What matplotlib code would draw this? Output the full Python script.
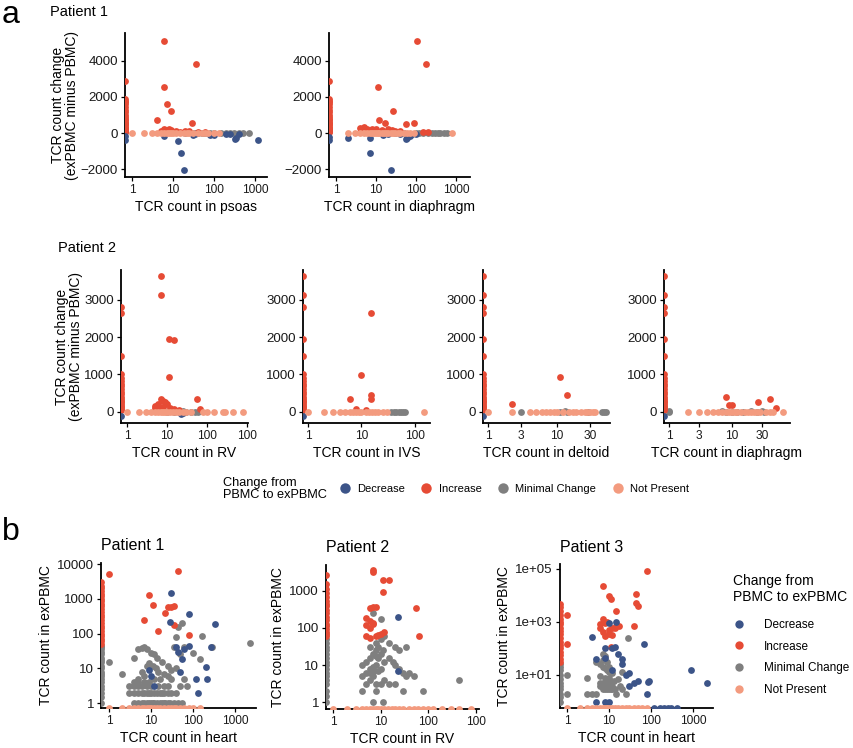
import numpy as np
import matplotlib
matplotlib.use("Agg")
import matplotlib.pyplot as plt
from matplotlib.lines import Line2D

plt.rcParams['font.family'] = ['Liberation Sans', 'DejaVu Sans']

# colours for the four groups (ggsci npg-like)
cats = ["Decrease", "Increase", "Minimal Change", "Not Present"]
colors = {"Decrease": "#3C5488", "Increase": "#E64B35",
          "Minimal Change": "#7F7F7F", "Not Present": "#F39B7F"}

# ---------------- panel a, patient 1 (x = tissue count, y = exPBMC - PBMC) ----------------
# x value 0 means "absent in tissue" and is drawn on the left edge
a1_edge_inc = [2900, 1900, 1800, 1700, 1600, 1450, 1300, 1150, 1000, 900, 800, 700, 620,
               550, 480, 420, 360, 300, 250, 200, 160, 120, 80, 40]
a1_edge_dec = [-150, -380]

psoas_inc = [(6, 5100), (37, 3850), (6, 2580), (7, 1600), (9, 1230), (4, 700), (29, 570),
             (6, 200), (7, 180), (9, 150), (12, 130), (5, 120), (20, 100), (25, 90),
             (40, 80), (60, 60), (15, 70), (8, 210)]
psoas_dec = [(6, -150), (13, -450), (16, -1100), (18, -2050), (1200, -380), (330, -350),
             (340, -250), (30, -100), (80, -120), (100, -100), (200, -50), (250, -80),
             (400, -40), (35, -60)]
psoas_min = [(30, 0), (40, 0), (50, 0), (60, 0), (80, 10), (100, 0), (150, 0), (200, 0),
             (250, 0), (300, 0), (400, 0), (500, 0), (700, 0), (20, -20), (35, 5)]
psoas_np = [1, 2, 3, 4, 5, 6, 7, 8, 9, 10, 12, 15, 18, 22, 25, 30, 40, 50, 60, 70, 100, 130]

diaph1_inc = [(105, 5100), (180, 3850), (11, 2580), (27, 1230), (12, 700), (17, 570),
              (90, 570), (55, 500), (4, 300), (5, 350), (6, 250), (8, 200), (10, 250),
              (14, 180), (20, 200), (25, 150), (30, 120), (40, 100), (200, 80), (150, 60)]
diaph1_dec = [(7, -1100), (24, -2050), (7, -250), (2, -300), (55, -350), (60, -250),
              (70, -150), (80, -80), (15, -100), (20, -80), (40, -50), (100, -50)]
diaph1_min = [(100, 0), (120, 0), (150, 0), (200, 0), (250, 0), (300, -10), (350, 0),
              (400, 0), (500, 0), (600, 0), (30, 0), (50, 0)]
diaph1_np = [2, 3, 4, 5, 6, 7, 8, 9, 10, 11, 12, 14, 16, 18, 20, 23, 26, 30, 35, 40, 50,
             60, 70, 90, 800]
a1b_edge_dec = [-200, -400]

# ---------------- panel a, patient 2 ----------------
rv_edge_inc = [2800, 2650, 1500, 1000, 900, 820, 750, 680, 600, 530, 470, 410, 350, 300,
               250, 200, 160, 120, 80, 40]
ivs_edge_inc = [3650, 3130, 2800, 1950, 1500, 1000, 900, 820, 750, 680, 600, 530, 470,
                410, 350, 300, 250, 200, 160, 120, 80, 40]
del_edge_inc = [3650, 3130, 2800, 2650, 1950, 1500, 1000, 900, 820, 750, 680, 600, 530,
                470, 410, 350, 300, 250, 200, 160, 120, 80, 40]
dia2_edge_inc = [3650, 3130, 2800, 2650, 1950, 1500, 1000, 900, 820, 750, 680, 600, 530,
                 470, 410, 350, 300, 250, 200, 160, 120, 80, 40]
p2_edge_dec = [-100]

rv_inc = [(7, 3650), (7, 3130), (11, 1950), (15, 1930), (11, 920), (55, 340), (7, 350),
          (8, 300), (9, 250), (10, 200), (6, 200), (5, 150), (5, 100), (12, 100), (15, 80),
          (20, 50), (65, 80), (8, 120), (6, 120)]
rv_dec = [(22, -60), (25, -40)]
rv_min = [(10, 0), (15, 0), (20, 0), (30, 0), (40, 0), (50, 0), (60, 0), (25, 10)]
rv_np = [1, 2, 3, 4, 5, 6, 7, 8, 9, 10, 12, 14, 17, 20, 25, 30, 40, 80, 100, 150, 250,
         280, 450, 800]

ivs_inc = [(15, 2650), (10, 980), (6, 340), (15, 460), (15, 340), (8, 80), (12, 60)]
ivs_dec = []
ivs_min = [(35, 0), (40, 0), (45, 0), (50, 0), (55, 0), (60, 0), (65, 0)]
ivs_np = [1, 2, 3, 4, 5, 6, 7, 8, 9, 10, 12, 14, 16, 18, 20, 25, 30, 150]

del_inc = [(11, 920), (14, 460), (2.2, 220)]
del_dec = []
del_min = [(3, 0), (13, 10), (14, 0), (28, 0), (45, -10), (48, 0), (50, 0), (11, 0)]
del_np = [1, 2.2, 4, 5, 6, 7, 8, 9, 10, 12, 15, 17, 19, 22, 25, 27, 30, 33, 35]

dia2_inc = [(8, 400), (9, 190), (10, 190), (26, 250), (40, 340), (50, 110)]
dia2_dec = []
dia2_min = [(1, 30), (1, 0), (7, 30), (8, 0), (10, 0), (12, 0), (15, 0), (20, 10),
            (25, 0), (30, 20), (32, 0)]
dia2_np = [2, 3, 4, 5, 6, 7, 8, 9, 10, 11, 12, 14, 16, 18, 20, 22, 25, 28, 35, 40, 45, 65]

# ---------------- panel b (x = heart/RV count, y = exPBMC count) ----------------
b1_edge_inc = [3000, 2400, 2000, 1700, 1400, 1200, 1000, 850, 700, 600, 500, 420, 350,
               300, 250, 200, 170, 140, 120, 100, 85, 70, 60, 50]
b1_edge_min = [45, 40, 35, 30, 25, 20, 17, 15, 12, 10, 8, 7, 6, 5, 4, 3, 2.5, 2, 1.5, 1]
b1_inc = [(1, 5000), (43, 6500), (9, 1250), (11, 680), (25, 580), (30, 580), (35, 600),
          (21, 400), (7, 250), (35, 180), (15, 115), (80, 90)]
b1_dec = [(30, 1500), (80, 370), (330, 190), (28, 220), (40, 40), (60, 35), (80, 45),
          (55, 18), (270, 40), (200, 11), (210, 5), (115, 5), (130, 2), (50, 8), (9, 9),
          (10, 6), (12, 3), (45, 30)]
b1_min = [(1, 15), (2, 7), (2250, 52), (160, 85), (290, 40), (100, 28), (150, 18), (4, 20),
          (5, 35), (6, 38), (7, 40), (8, 35), (10, 28), (12, 25), (14, 20), (18, 15),
          (9, 14), (11, 12), (13, 10), (15, 8), (20, 7), (25, 6), (30, 9), (40, 10),
          (50, 25), (60, 40), (40, 80), (45, 150), (55, 200), (8, 12), (6, 8), (7, 6),
          (5, 5), (4, 4), (3, 3), (35, 40), (25, 12), (60, 5), (70, 3),
          (4, 1), (5, 1), (6, 1), (7, 1), (8, 1), (9, 1), (10, 1), (11, 1), (12, 1),
          (14, 1), (16, 1), (18, 1), (20, 1), (22, 1), (25, 1), (28, 1), (35, 1), (45, 1),
          (55, 1), (3, 2), (4, 2), (5, 2), (6, 2), (7, 2), (8, 2), (9, 2), (10, 2),
          (12, 2), (14, 2), (16, 2), (18, 2), (20, 2), (25, 2), (30, 2), (40, 2),
          (4, 3), (5, 3), (6, 3), (8, 3), (10, 3), (15, 3), (20, 3), (25, 3), (50, 3),
          (5, 4), (7, 4), (9, 4), (12, 5), (16, 5), (30, 5)]
b1_np = [1, 2, 3, 4, 5, 6, 7, 8, 9, 10, 12, 14, 16, 20, 25, 30, 35, 40, 50, 60, 80, 100, 150]

b2_edge_inc = [2700, 1500, 1100, 900, 700, 550, 450, 380, 300, 250, 200, 160, 130, 110,
               95, 80, 70, 60]
b2_edge_min = [50, 40, 30, 25, 20, 15, 12, 10, 8, 6, 5, 4, 3, 2, 1.5, 1]
b2_inc = [(7, 3600), (7, 3300), (11, 2000), (15, 2000), (11, 920), (55, 350), (7, 370),
          (8, 360), (6, 350), (5, 180), (6, 150), (7, 140), (5, 120), (5, 60), (6, 55),
          (8, 60), (10, 70), (12, 80), (65, 62), (9, 65), (6, 100), (7, 130)]
b2_dec = [(23, 200), (23, 7)]
b2_min = [(7, 250), (10, 170), (8, 40), (10, 50), (12, 60), (15, 40), (20, 30), (25, 25),
          (35, 30), (4, 10), (5, 12), (6, 15), (7, 20), (8, 25), (9, 30), (10, 20), (5, 6),
          (6, 8), (7, 9), (8, 10), (9, 7), (10, 8), (12, 12), (15, 15), (18, 12), (20, 10),
          (25, 8), (30, 6), (35, 5), (40, 6), (50, 5), (4, 5), (5, 3), (6, 4), (7, 5),
          (8, 3), (10, 3), (12, 4), (15, 3), (20, 3), (30, 2), (4, 2), (8, 2), (7, 1),
          (11, 1), (80, 2), (450, 4), (6, 6), (7, 7), (9, 15), (11, 25), (6, 30), (8, 18)]
b2_np = [1, 2, 3, 4, 5, 6, 7, 8, 9, 10, 12, 14, 17, 20, 25, 30, 40, 50, 60, 80, 100, 130,
         200, 300, 450, 800]

b3_edge_inc = [4500, 3500, 2500, 1800, 1300, 1000, 800, 600, 450, 350, 250, 180, 130, 100,
               75, 55, 40, 30]
b3_edge_min = [25, 20, 15, 10, 7, 5, 4, 3, 2, 1.5, 1]
b3_inc = [(80, 80000), (7, 22000), (10, 9000), (11, 7000), (45, 11000), (45, 5000),
          (50, 4000), (15, 2500), (40, 700), (7, 1300), (6, 800), (8, 900), (10, 500),
          (12, 600), (15, 700), (9, 1000), (7, 400), (8, 300), (10, 350), (12, 320),
          (14, 600), (17, 700), (6, 600), (11, 110), (1, 1800), (1, 150)]
b3_dec = [(10, 900), (15, 1000), (4, 280), (70, 150), (8, 100), (12, 100), (14, 110),
          (5, 40), (8, 45), (16, 60), (20, 40), (20, 25), (12, 15), (25, 10), (30, 12),
          (900, 15), (2200, 5), (50, 6), (90, 6), (85, 5.5), (30, 4), (40, 5), (80, 2),
          (5, 1), (8, 1), (10, 1)]
b3_min = [(28, 250), (7, 60), (8, 50), (5, 30), (6, 25), (7, 20), (8, 18), (9, 15),
          (10, 13), (12, 12), (10, 8), (6, 4), (7, 3), (8, 3), (9, 3), (10, 3), (11, 3),
          (12, 3), (14, 3), (20, 3), (3, 2), (4, 2), (5, 2), (15, 2), (25, 2), (1, 10),
          (1, 2), (3, 8), (6, 9), (8, 8), (16, 7), (20, 13), (9, 30), (7, 35), (10, 20),
          (6, 5), (7, 5), (8, 5), (9, 5), (10, 5), (11, 5), (12, 4), (13, 6), (18, 4)]
b3_np = [1, 2, 3, 4, 5, 6, 7, 8, 9, 10, 12, 14, 16, 20, 25, 30, 40, 50, 60, 80]
b3_dec_bottom = [120, 160, 200, 250, 300, 420]

# ---------------- figure ----------------
W, H = 854, 748
fig = plt.figure(figsize=(W / 100, H / 100), dpi=100)


def add_ax(x0, y0, x1, y1):
    return fig.add_axes([x0 / W, 1 - y1 / H, (x1 - x0) / W, (y1 - y0) / H])


def style(ax):
    for s in ["top", "right"]:
        ax.spines[s].set_visible(False)
    for s in ["left", "bottom"]:
        ax.spines[s].set_linewidth(1.3)
        ax.spines[s].set_color("black")
    ax.tick_params(direction="out", length=3, width=0.9,
                   colors="black", labelcolor="#1a1a1a", pad=2)
    ax.tick_params(axis="y", labelsize=9.6)
    ax.tick_params(axis="x", labelsize=8.6)
    ax.minorticks_off()


def scatter_groups(ax, groups, logy=False):
    x0 = ax.get_xlim()[0]
    y0 = ax.get_ylim()[0]
    for cat in ["Minimal Change", "Increase", "Decrease", "Not Present"]:
        pts = groups.get(cat, [])
        if len(pts) == 0:
            continue
        arr = np.array(pts, dtype=float)
        x = np.where(arr[:, 0] == 0, x0, arr[:, 0])
        y = arr[:, 1]
        if logy:
            y = np.where(y == 0, y0, y)
        ax.scatter(x, y, s=24, color=colors[cat], linewidths=0, zorder=3)


def edge(vals):
    return [(0, v) for v in vals]


def zero_row(xs):
    return [(x, 0) for x in xs]


def panel_a(box, xlim, xticks, xticklabels, groups, xlabel, ylim, yticks, ylab=False):
    ax = add_ax(*box)
    ax.set_xscale("log")
    ax.set_xlim(*xlim)
    ax.set_ylim(*ylim)
    style(ax)
    ax.set_xticks(xticks)
    ax.set_xticklabels(xticklabels)
    ax.set_yticks(yticks)
    ax.set_yticklabels([str(t).replace("-", "\u2212") for t in yticks])
    scatter_groups(ax, groups)
    ax.set_xlabel(xlabel, fontsize=10, labelpad=3)
    if ylab:
        ax.set_ylabel("TCR count change\n(exPBMC minus PBMC)", fontsize=10, labelpad=1,
                      linespacing=1.0)
    return ax


# row 1
ylim_a1 = (-2444, 5555)
yt_a1 = [-2000, 0, 2000, 4000]
panel_a((125, 33, 267, 177), (0.675, 1950), [1, 10, 100, 1000], ["1", "10", "100", "1000"],
        {"Increase": edge(a1_edge_inc) + psoas_inc,
         "Decrease": edge(a1_edge_dec) + psoas_dec,
         "Minimal Change": psoas_min, "Not Present": zero_row(psoas_np)},
        "TCR count in psoas", ylim_a1, yt_a1, ylab=True)
panel_a((329, 33, 470, 177), (0.67, 2200), [1, 10, 100, 1000], ["1", "10", "100", "1000"],
        {"Increase": edge(a1_edge_inc) + diaph1_inc,
         "Decrease": edge(a1b_edge_dec) + diaph1_dec,
         "Minimal Change": diaph1_min, "Not Present": zero_row(diaph1_np)},
        "TCR count in diaphragm", ylim_a1, yt_a1)

# row 2
ylim_a2 = (-300, 3800)
yt_a2 = [0, 1000, 2000, 3000]
panel_a((121, 270, 248, 423), (0.71, 1050), [1, 10, 100, 1000], ["1", "10", "100", "100"],
        {"Increase": edge(rv_edge_inc) + rv_inc, "Decrease": edge(p2_edge_dec) + rv_dec,
         "Minimal Change": rv_min, "Not Present": zero_row(rv_np)},
        "TCR count in RV", ylim_a2, yt_a2, ylab=True)
panel_a((303, 270, 430, 423), (0.81, 190), [1, 10, 100], ["1", "10", "100"],
        {"Increase": edge(ivs_edge_inc) + ivs_inc, "Decrease": edge(p2_edge_dec) + ivs_dec,
         "Minimal Change": ivs_min, "Not Present": zero_row(ivs_np)},
        "TCR count in IVS", ylim_a2, yt_a2)
panel_a((483, 270, 610, 423), (0.85, 58), [1, 3, 10, 30], ["1", "3", "10", "30"],
        {"Increase": edge(del_edge_inc) + del_inc, "Decrease": edge(p2_edge_dec) + del_dec,
         "Minimal Change": del_min, "Not Present": zero_row(del_np)},
        "TCR count in deltoid", ylim_a2, yt_a2)
panel_a((664, 270, 790, 423), (0.83, 83), [1, 3, 10, 30], ["1", "3", "10", "30"],
        {"Increase": edge(dia2_edge_inc) + dia2_inc, "Decrease": edge(p2_edge_dec) + dia2_dec,
         "Minimal Change": dia2_min, "Not Present": zero_row(dia2_np)},
        "TCR count in diaphragm", ylim_a2, yt_a2)


def panel_b(box, xlim, ylim, xticks, xticklabels, yticks, yticklabels, groups, xlabel, title):
    ax = add_ax(*box)
    ax.set_xscale("log")
    ax.set_yscale("log")
    ax.set_xlim(*xlim)
    ax.set_ylim(*ylim)
    style(ax)
    ax.set_xticks(xticks)
    ax.set_xticklabels(xticklabels)
    ax.set_yticks(yticks)
    ax.set_yticklabels(yticklabels)
    ax.minorticks_off()
    scatter_groups(ax, groups, logy=True)
    ax.set_xlabel(xlabel, fontsize=10, labelpad=3)
    ax.set_ylabel("TCR count in exPBMC", fontsize=10, labelpad=3)
    ax.set_title(title, fontsize=11.5, loc="left", pad=9)
    return ax


panel_b((101, 563, 256, 708), (0.645, 3160), (0.72, 10700), [1, 10, 100, 1000],
        ["1", "10", "100", "1000"], [1, 10, 100, 1000, 10000],
        ["1", "10", "100", "1000", "10000"],
        {"Increase": edge(b1_edge_inc) + b1_inc, "Decrease": b1_dec,
         "Minimal Change": edge(b1_edge_min) + b1_min, "Not Present": zero_row(b1_np)},
        "TCR count in heart", "Patient 1")
panel_b((326, 565, 479, 709), (0.71, 1180), (0.65, 5000), [1, 10, 100, 1000],
        ["1", "10", "100", "100"], [1, 10, 100, 1000], ["1", "10", "100", "1000"],
        {"Increase": edge(b2_edge_inc) + b2_inc, "Decrease": b2_dec,
         "Minimal Change": edge(b2_edge_min) + b2_min, "Not Present": zero_row(b2_np)},
        "TCR count in RV", "Patient 2")
panel_b((560, 564, 713, 708), (0.68, 3000), (0.57, 1.5e5), [1, 10, 100, 1000],
        ["1", "10", "100", "1000"], [10, 1000, 100000], ["1e+01", "1e+03", "1e+05"],
        {"Increase": edge(b3_edge_inc) + b3_inc,
         "Decrease": b3_dec + zero_row(b3_dec_bottom),
         "Minimal Change": edge(b3_edge_min) + b3_min, "Not Present": zero_row(b3_np)},
        "TCR count in heart", "Patient 3")

# labels
fig.text(2 / W, 1 - 15 / H, "a", fontsize=23, va="center", ha="left")
fig.text(2 / W, 1 - 532 / H, "b", fontsize=23, va="center", ha="left")
fig.text(50 / W, 1 - 12 / H, "Patient 1", fontsize=10.5, va="center", ha="left")
fig.text(58 / W, 1 - 248 / H, "Patient 2", fontsize=10.5, va="center", ha="left")

handles = [Line2D([], [], marker="o", linestyle="none", markersize=7.5,
                  markerfacecolor=colors[c], markeredgewidth=0) for c in cats]

# horizontal legend under panel a
fig.text(223 / W, 1 - 489 / H, "Change from\nPBMC to exPBMC", fontsize=9.2,
         va="center", ha="left", linespacing=1.05)
fig.legend(handles, cats, loc="center left", bbox_to_anchor=(339 / W, 1 - 489 / H),
           ncol=4, frameon=False, fontsize=8, handlelength=1.0, handletextpad=0.6,
           columnspacing=1.45, borderpad=0, borderaxespad=0)

# vertical legend for panel b
leg = fig.legend([Line2D([], [], marker="o", linestyle="none", markersize=6,
                         markerfacecolor=colors[c], markeredgewidth=0) for c in cats],
                 cats, loc="upper left", bbox_to_anchor=(733 / W, 1 - 574 / H),
                 frameon=False, fontsize=8.5, title="Change from\nPBMC to exPBMC",
                 title_fontsize=10, alignment="left", handlelength=1.0,
                 handletextpad=1.6, labelspacing=0.82, borderpad=0, borderaxespad=0)
leg.get_title().set_linespacing(1.15)
leg._legend_box.sep = 11

fig.savefig("out.png", dpi=100)
